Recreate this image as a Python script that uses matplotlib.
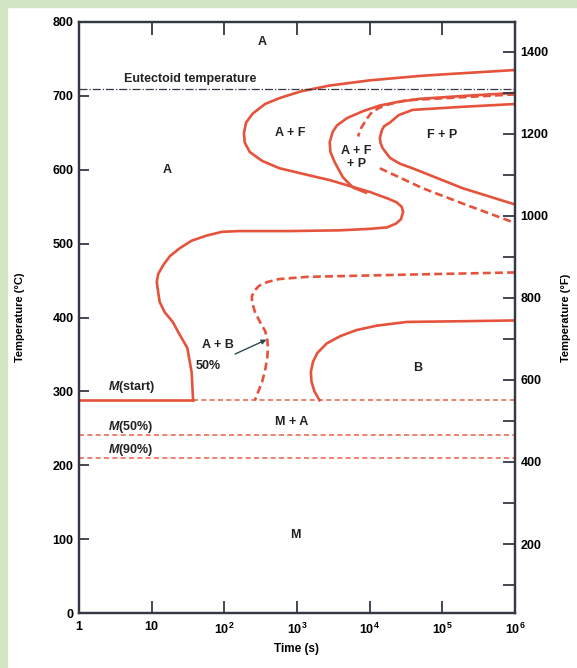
import matplotlib.pyplot as plt
import numpy as np
from matplotlib.patches import Rectangle

plt.rcParams['font.family'] = ['Liberation Sans', 'DejaVu Sans']
plt.rcParams['mathtext.fontset'] = 'custom'
plt.rcParams['mathtext.it'] = 'Liberation Sans:italic:bold'
plt.rcParams['mathtext.rm'] = 'Liberation Sans:bold'

# Curves: log10(time in s) and temperature in degC
outer_logt = [6.0, 5.0, 4.69, 4.0, 3.45, 3.05, 2.76, 2.56, 2.39, 2.30, 2.27, 2.28, 2.35,
              2.52, 2.76, 3.1, 3.45, 4.00, 4.25, 4.37, 4.44, 4.46, 4.43, 4.36, 4.24,
              4.0, 3.59, 2.9, 2.21, 1.97, 1.76, 1.55, 1.39, 1.25, 1.16, 1.09, 1.07,
              1.09, 1.11, 1.18, 1.29, 1.39, 1.49, 1.55, 1.57]
outer_T = [735, 729, 727, 721, 714, 706, 697, 689, 676, 664, 650, 637, 624,
           612, 602, 594, 586, 570, 561, 556, 550, 543, 533, 527, 522,
           520, 518, 517, 517, 516, 511, 504, 494, 483, 471, 459, 448,
           434, 421, 407, 394, 376, 359, 326, 288]

afp_logt = [6.0, 5.3, 4.69, 4.4, 4.14, 3.9, 3.69, 3.55, 3.49, 3.45, 3.46, 3.52, 3.63, 3.77, 3.95]
afp_T = [704, 700, 696, 692, 687, 679, 670, 660, 651, 637, 624, 610, 590, 576, 569]

fp50_upper_logt = [6.0, 4.5, 4.2, 4.04, 3.96, 3.88, 3.84]
fp50_upper_T = [702, 694, 687, 679, 669, 656, 645]
fp50_lower_logt = [4.14, 4.73, 5.34, 6.0]
fp50_lower_T = [602, 575, 552, 528]

fp_logt = [6.0, 5.24, 4.59, 4.4, 4.28, 4.2, 4.17, 4.14, 4.15, 4.18, 4.28, 4.42, 4.59, 5.28, 6.0]
fp_T = [689, 685, 681, 674, 664, 659, 654, 643, 636, 629, 616, 608, 602, 575, 553]

b50_logt = [6.0, 4.5, 3.14, 2.75, 2.59, 2.48, 2.42, 2.38, 2.38, 2.42, 2.49, 2.56, 2.59,
            2.6, 2.59, 2.56, 2.52, 2.42]
b50_T = [461, 458, 455, 452, 448, 443, 437, 429, 421, 408, 394, 382, 372,
         358, 345, 328, 313, 288]

bfin_logt = [6.0, 5.3, 4.51, 4.1, 3.82, 3.6, 3.41, 3.28, 3.22, 3.19, 3.20, 3.24, 3.31]
bfin_T = [396, 395, 394, 389, 383, 375, 365, 352, 340, 326, 313, 300, 288]

eutectoid_T = 709
ms_T = 288
m50_T = 241
m90_T = 210

temp_c_ticks = [0, 100, 200, 300, 400, 500, 600, 700, 800]
temp_f_ticks = [200, 400, 600, 800, 1000, 1200, 1400]
temp_f_minor = [100, 300, 500, 700, 900, 1100, 1300]
time_ticks = [1, 10, 1e2, 1e3, 1e4, 1e5, 1e6]
time_labels = ["1", "10", "10$^2$", "10$^3$", "10$^4$", "10$^5$", "10$^6$"]

red = "#e5533c"
dark = "#343844"

fig = plt.figure(figsize=(5.77, 6.68), dpi=100)
fig.patches.append(Rectangle((0, 0), 7 / 577, 1, transform=fig.transFigure, color="#d3e6c4", zorder=-5))
fig.patches.append(Rectangle((0, 1 - 7 / 668), 1, 7 / 668, transform=fig.transFigure, color="#d3e6c4", zorder=-5))

ax = fig.add_axes([79 / 577, 1 - 613 / 668, (515 - 79) / 577, (613 - 22) / 668])
ax.set_xscale("log")
ax.set_xlim(1, 1e6)
ax.set_ylim(0, 800)


def t(lst):
    return 10 ** np.array(lst)


line_kw = dict(color=red, lw=1.9, solid_joinstyle="round", dash_joinstyle="round")
ax.plot(t(outer_logt), outer_T, **line_kw)
ax.plot(t(afp_logt), afp_T, **line_kw)
ax.plot(t(fp_logt), fp_T, **line_kw)
ax.plot(t(fp50_upper_logt), fp50_upper_T, dashes=(3, 1.6), **line_kw)
ax.plot(t(fp50_lower_logt), fp50_lower_T, dashes=(3, 1.6), **line_kw)
ax.plot(t(b50_logt), b50_T, dashes=(3, 1.6), **line_kw)
ax.plot(t(bfin_logt), bfin_T, **line_kw)

# martensite lines
ax.plot([1, 10 ** outer_logt[-1]], [ms_T, ms_T], **line_kw)
ax.plot([10 ** outer_logt[-1], 1e6], [ms_T, ms_T], color=red, lw=1.2, dashes=(3, 2), alpha=0.85)
ax.axhline(m50_T, color=red, lw=1.2, dashes=(3, 2), alpha=0.85)
ax.axhline(m90_T, color=red, lw=1.2, dashes=(3, 2), alpha=0.85)

ax.axhline(eutectoid_T, color=dark, lw=0.9, linestyle="-.")

fs = 9
kw = dict(fontsize=fs, fontweight="bold", color="#222222")
ax.text(10 ** 1.53, 723, "Eutectoid temperature", ha="center", va="center", **kw)
ax.text(10 ** 2.52, 773, "A", ha="center", va="center", **kw)
ax.text(10 ** 1.21, 600, "A", ha="center", va="center", **kw)
ax.text(10 ** 2.9, 650, "A + F", ha="center", va="center", **kw)
ax.text(10 ** 3.82, 617, "A + F\n+ P", ha="center", va="center", linespacing=1.1,
        bbox=dict(facecolor="white", edgecolor="none", pad=0.5), **kw)
ax.text(10 ** 5.0, 647, "F + P", ha="center", va="center", **kw)
ax.text(10 ** 1.91, 363, "A + B", ha="center", va="center", **kw)
ax.annotate("50%", xy=(10 ** 2.58, 370), xytext=(10 ** 1.78, 334), ha="center", va="center",
            arrowprops=dict(arrowstyle="-|>", color="#2f4a4c", lw=1, shrinkA=9, shrinkB=0,
                            mutation_scale=7), **kw)
ax.text(10 ** 4.66, 331, "B", ha="center", va="center", **kw)
ax.text(10 ** 0.4, 306, "$M$(start)", ha="left", va="center", **kw)
ax.text(10 ** 0.4, 252, "$M$(50%)", ha="left", va="center", **kw)
ax.text(10 ** 0.4, 221, "$M$(90%)", ha="left", va="center", **kw)
ax.text(10 ** 2.93, 258, "M + A", ha="center", va="center", **kw)
ax.text(10 ** 2.98, 105, "M", ha="center", va="center", **kw)

ax.set_xticks(time_ticks)
ax.set_xticklabels(time_labels, fontsize=fs, fontweight="bold")
ax.xaxis.set_minor_locator(plt.NullLocator())
ax.set_yticks(temp_c_ticks)
ax.set_yticklabels([str(v) for v in temp_c_ticks], fontsize=fs, fontweight="bold")
ax.tick_params(axis="x", which="both", direction="in", top=True, length=9, width=1.3,
               color=dark, pad=6)
ax.tick_params(axis="y", direction="in", length=7, width=1.3, color=dark, pad=4)
ax.set_xlabel("Time (s)", fontsize=fs - 0.5, fontweight="bold", labelpad=5)
ax.set_ylabel("Temperature (°C)", fontsize=8, fontweight="bold", labelpad=20)
for s in ax.spines.values():
    s.set_color(dark)
    s.set_linewidth(1.6)

ax2 = ax.twinx()
ax2.set_ylim(0 * 9 / 5 + 32, 800 * 9 / 5 + 32)
ax2.set_yticks(temp_f_ticks)
ax2.set_yticklabels([str(v) for v in temp_f_ticks], fontsize=fs, fontweight="bold")
ax2.set_yticks(temp_f_minor, minor=True)
ax2.tick_params(axis="y", which="both", direction="in", length=9, width=1.3, color=dark, pad=4)
ax2.set_ylabel("Temperature (°F)", fontsize=8, fontweight="bold", labelpad=9)
for s in ax2.spines.values():
    s.set_color(dark)
    s.set_linewidth(1.6)

plt.savefig("out.png", dpi=100)
